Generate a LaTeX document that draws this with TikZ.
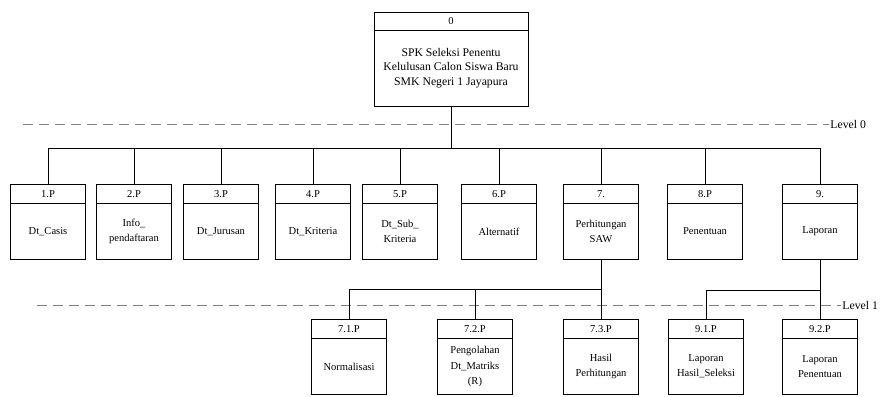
\documentclass[tikz,border=0pt]{standalone}
\usepackage{fontspec}
\setmainfont{Liberation Serif}

\tikzset{
    box/.style={draw, line width=0.8pt, fill=white, minimum width=75*0.03cm, minimum height=56*0.03cm,
        inner sep=1pt, outer sep=0pt, align=center, font=\fontsize{9}{13}\selectfont},
    hdr/.style={draw, line width=0.8pt, minimum width=75*0.03cm, minimum height=19*0.03cm,
        inner sep=0pt, outer sep=0pt, font=\fontsize{9}{11}\selectfont},
    link/.style={line width=0.6pt},
    lvl/.style={gray, line width=0.6pt, dash pattern=on 0.3cm off 0.18cm},
    lvltext/.style={anchor=west, inner sep=1pt, font=\fontsize{10}{12}\selectfont}
}

\begin{document}
\begin{tikzpicture}[x=0.03cm, y=-0.03cm]
            \useasboundingbox (0,0) rectangle (883,397);

            \node[box, minimum width=154*0.03cm, minimum height=76*0.03cm, font=\fontsize{10}{12.5}\selectfont,
                label={[hdr, minimum width=154*0.03cm, minimum height=18*0.03cm, name=h0]above:0}] (p0) at (451,68)
                {SPK Seleksi Penentu\\Kelulusan Calon Siswa Baru\\SMK Negeri 1 Jayapura};

            \node[box, label={[hdr, name=h1]above:1.P}] (p1) at (48,231.5) {Dt\_Casis};
            \node[box, label={[hdr, name=h2]above:2.P}] (p2) at (134,231.5) {Info\_\\pendaftaran};
            \node[box, label={[hdr, name=h3]above:3.P}] (p3) at (221,231.5) {Dt\_Jurusan};
            \node[box, label={[hdr, name=h4]above:4.P}] (p4) at (313,231.5) {Dt\_Kriteria};
            \node[box, label={[hdr, name=h5]above:5.P}] (p5) at (400,231.5) {Dt\_Sub\_\\Kriteria};
            \node[box, label={[hdr, name=h6]above:6.P}] (p6) at (499,231.5) {Alternatif};
            \node[box, label={[hdr, name=h7]above:7.}] (p7) at (601,231.5) {Perhitungan\\SAW};
            \node[box, label={[hdr, name=h8]above:8.P}] (p8) at (705,231.5) {Penentuan};
            \node[box, label={[hdr, name=h9]above:9.}] (p9) at (820,231.5) {Laporan};

            \node[box, label={[hdr, name=h71]above:7.1.P}] (p71) at (349,366.5) {Normalisasi};
            \node[box, label={[hdr, name=h72]above:7.2.P}] (p72) at (475,366.5) {Pengolahan\\Dt\_Matriks\\(R)};
            \node[box, label={[hdr, name=h73]above:7.3.P}] (p73) at (601,366.5) {Hasil\\Perhitungan};
            \node[box, label={[hdr, name=h91]above:9.1.P}] (p91) at (706,366.5) {Laporan\\Hasil\_Seleksi};
            \node[box, label={[hdr, name=h92]above:9.2.P}] (p92) at (820,366.5) {Laporan\\Penentuan};

            \node[lvltext] (lv0) at (829,124) {Level 0};
            \node[lvltext] (lv1) at (841,305) {Level 1};
            \draw[lvl] (23,124) -- (lv0.west);
            \draw[lvl] (37,305) -- (lv1.west);

            \coordinate (bus0) at (451,148);
            \coordinate (bus7) at (601,289);
            \coordinate (bus9) at (820,290);

            \draw[link] (p0.south) -- (bus0);
            \draw[link] (h1.north |- bus0) -- (h9.north |- bus0);
            \foreach \n in {1,...,9}
                \draw[link] (h\n.north) -- (h\n.north |- bus0);

            \draw[link] (p7.south) -- (h73.north);
            \draw[link] (h71.north) |- (bus7);
            \draw[link] (h72.north) -- (h72.north |- bus7);

            \draw[link] (p9.south) -- (h92.north);
            \draw[link] (h91.north) |- (bus9);
        \end{tikzpicture}
\end{document}
